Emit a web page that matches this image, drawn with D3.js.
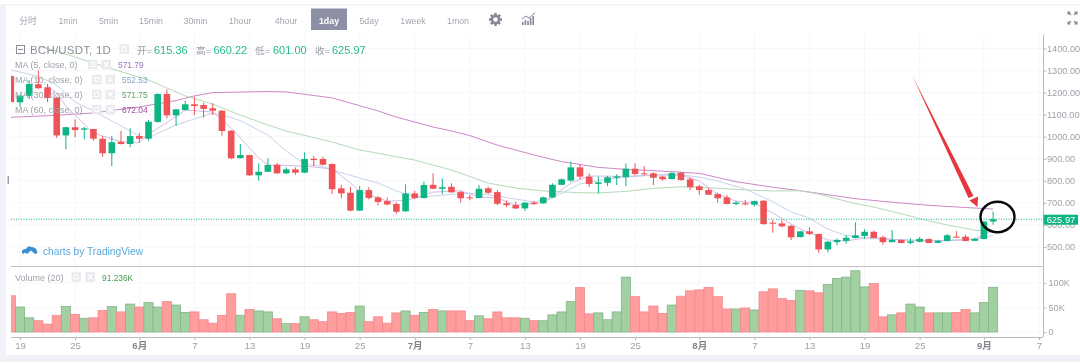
<!DOCTYPE html>
<html>
<head>
<meta charset="utf-8">
<script src="https://cdn.jsdelivr.net/npm/d3@7"></script>
<style>
html, body { margin: 0; padding: 0; background: #fff; }
svg { display: block; filter: blur(0.35px); }
text { font-family: "Liberation Sans", Arial, "Noto Sans CJK SC", sans-serif; }
</style>
</head>
<body>
<div id="chart"></div>
<script>
// daily candles, 18 May to 2 Sep
var firstDay = "2018-05-18";
var opens = [1275,1156,1185,1238,1224,1177,1006,1043,1032,1035,991,925,977,967,1003,991,1067,1194,1097,1121,1147,1144,1129,1118,1027,903,917,825,841,873,834,852,837,900,899,876,766,746,665,758,725,708,695,662,743,722,782,764,773,749,725,722,766,749,698,690,675,701,698,725,782,801,861,819,786,791,814,817,855,834,834,819,808,837,807,775,758,740,725,695,698,692,710,610,607,596,545,571,559,489,522,528,541,550,569,544,522,532,519,524,536,519,527,547,547,528,536,615.36];
var highs = [1280,1189,1257,1300,1239,1180,1045,1079,1045,1036,1003,1003,1027,1038,1018,1076,1196,1215,1127,1163,1181,1154,1152,1121,1030,967,919,879,902,881,861,861,929,913,909,879,781,773,776,771,731,725,701,784,755,796,834,811,789,755,736,781,773,758,710,705,705,710,728,789,811,887,876,834,819,822,830,879,879,867,839,823,839,839,816,781,766,746,736,708,713,710,712,622,622,600,572,589,561,527,539,554,612,580,574,551,577,535,539,545,539,533,559,572,557,542,618,660.22];
var lows = [1157,1136,1171,1216,1157,994,943,997,988,982,909,867,965,952,973,982,1064,1083,1049,1118,1098,1086,1098,1005,898,901,822,801,840,832,831,828,835,867,870,740,721,662,663,716,689,689,650,659,716,720,762,740,746,701,712,721,740,690,680,672,664,690,696,722,781,796,807,773,743,776,781,776,825,826,781,800,807,800,758,736,736,701,693,689,689,683,601,565,589,532,543,554,474,476,508,516,539,537,538,510,521,517,513,521,517,518,526,542,526,526,535,601];
var closes = [1157,1186,1239,1220,1176,1006,1043,1030,1038,991,925,975,967,1003,991,1068,1194,1097,1124,1147,1139,1126,1118,1026,902,917,825,841,872,834,852,837,899,894,873,762,743,665,758,722,704,693,660,743,722,781,764,771,748,721,721,764,746,696,690,675,701,695,725,782,807,861,819,786,793,816,820,855,831,830,814,807,835,804,771,758,737,721,695,701,693,708,604,606,594,544,571,559,489,524,532,542,553,569,541,522,532,518,526,537,518,528,553,544,527,537,615,625.97];
var volumes = [74,51,29,23,16,34,52,36,28,29,44,52,41,57,51,60,51,62,55,40,41,25,18,34,78,34,46,43,41,27,17,17,31,25,21,41,38,40,53,21,31,18,39,43,34,40,46,43,43,43,23,33,27,41,29,29,28,23,23,35,41,62,91,37,39,25,41,112,72,41,53,38,55,73,84,86,91,72,47,47,49,45,82,88,68,64,85,84,80,97,109,112,125,92,99,31,35,39,57,51,39,39,39,40,46,39,60,91.236];

// moving averages: day offset from firstDay, then price
var ma5Days = [4,5,6,9,12,14,15,17,19,22,24,25,27,28,32,35,37,38,41,43,44,46,49,51,53,55,57,58,59,61,63,67,70,73,75,77,79,81,83,85,86,89,91,93,94,97,100,105,106,107];
var ma5 = [1230,1198,1139,1017,977,973,1012,1064,1121,1112,1040,994,903,872,867,854,790,751,708,711,722,749,755,727,722,690,697,702,727,790,822,820,826,826,799,740,708,699,654,604,581,532,527,541,542,532,527,535,559,571.79];
var ma10Days = [0,3,5,7,9,12,14,15,18,22,24,25,28,30,32,34,35,38,40,42,44,46,49,51,54,57,59,62,65,68,72,75,77,80,83,85,87,89,91,94,98,102,105,107];
var ma10 = [1303,1273,1235,1157,1117,1049,1003,996,1053,1108,1087,1073,1008,935,876,865,849,813,790,754,727,731,743,743,724,704,722,786,808,820,831,817,799,763,705,659,631,581,552,537,532,528,535,552.53];
var ma30Days = [3,5,7,10,15,19,22,25,28,30,35,38,44,48,52,55,58,62,64,67,70,73,75,79,83,86,88,90,92,94,96,98,100,102,105,107];
var ma30 = [1411,1389,1361,1321,1257,1185,1148,1098,1053,1026,976,940,894,849,790,767,754,746,745,752,766,773,771,761,754,755,740,718,697,681,661,640,618,600,576,571.75];
var ma60Days = [0,5,9,14,18,20,22,28,30,35,40,42,46,48,50,53,57,60,64,67,70,73,75,79,83,86,88,92,96,100,104,107];
var ma60 = [1088,1097,1108,1135,1164,1185,1200,1205,1203,1176,1117,1089,1044,1026,1005,962,917,887,861,852,846,839,834,796,771,755,743,719,703,689,679,672.04];

// labels
var periods = ["分时","1min","5min","15min","30min","1hour","4hour","1day","5day","1week","1mon"];
var priceTicks = [500,600,700,800,900,1000,1100,1200,1300,1400];
var volumeTicks = [0,50,100];
var dateTicks = ["2018-05-19","2018-05-25","2018-06-01","2018-06-07","2018-06-13","2018-06-19","2018-06-25","2018-07-01","2018-07-07","2018-07-13","2018-07-19","2018-07-25","2018-08-01","2018-08-07","2018-08-13","2018-08-19","2018-08-25","2018-09-01","2018-09-07"];
var dateLabels = ["19","25","6月","7","13","19","25","7月","7","13","19","25","8月","7","13","19","25","9月","7"];
var ohlcLabels = ["开","高","低","收"];
var ohlcValues = ["615.36","660.22","601.00","625.97"];
var lastPrice = 625.97;

var upColor = "#0cb583", downColor = "#ee5358", axisText = "#9fa2aa";

var width = 1080, height = 364;
var plotLeft = 11, plotRight = 1043;

var svg = d3.select("#chart")
    .append("svg")
    .attr("width", width)
    .attr("height", height);

// page background and white panel
svg.append("rect").attr("width", width).attr("height", height).attr("fill", "#f0f2f8");
svg.append("rect").attr("width", width).attr("height", 4).attr("fill", "#fff");
svg.append("rect").attr("x", 6).attr("y", 5.5).attr("width", width - 6).attr("height", 349.5).attr("fill", "#fff");
svg.append("rect").attr("y", 362).attr("width", width).attr("height", 2).attr("fill", "#fff");

var parseDay = d3.utcParse("%Y-%m-%d");
var day0 = parseDay(firstDay);
var dayOf = function (i) { return d3.utcDay.offset(day0, i); };

// scales
var x = d3.scaleUtc()
    .domain([parseDay("2018-05-19"), parseDay("2018-09-07")])
    .range([20, 1039]);
var y = d3.scaleLinear()
    .domain([500, 1400])
    .range([247, 48.5]);
var yVol = d3.scaleLinear()
    .domain([0, 100])
    .range([332, 283]);

var tickDates = dateTicks.map(parseDay);

// faint grid
var grid = svg.append("g").attr("stroke", "#f6f7fa").attr("stroke-width", 1);
grid.selectAll("line.v").data(tickDates).enter().append("line")
    .attr("x1", function (d) { return x(d); }).attr("x2", function (d) { return x(d); })
    .attr("y1", 34).attr("y2", 337);
grid.selectAll("line.h").data(priceTicks).enter().append("line")
    .attr("x1", plotLeft).attr("x2", plotRight)
    .attr("y1", function (d) { return y(d); }).attr("y2", function (d) { return y(d); });
grid.selectAll("line.hv").data(volumeTicks).enter().append("line")
    .attr("x1", plotLeft).attr("x2", plotRight)
    .attr("y1", function (d) { return yVol(d); }).attr("y2", function (d) { return yVol(d); });

// clip everything to the plot width
svg.append("clipPath").attr("id", "plot")
    .append("rect").attr("x", plotLeft).attr("y", 0).attr("width", plotRight - plotLeft).attr("height", 337);
var inner = svg.append("g").attr("clip-path", "url(#plot)");

// moving average lines
var maLine = function (days, values, color) {
    var line = d3.line()
        .x(function (d, i) { return x(dayOf(days[i])); })
        .y(function (d) { return y(d); });
    inner.append("path")
        .attr("d", line(values))
        .attr("fill", "none")
        .attr("stroke", color)
        .attr("stroke-width", 1);
};
maLine(ma60Days, ma60, "#cc88ca");
maLine(ma30Days, ma30, "#b5dab8");
maLine(ma10Days, ma10, "#c5d4e8");
maLine(ma5Days, ma5, "#d0bce6");

// candles
var isUp = function (i) { return closes[i] >= opens[i]; };
var candleW = 6.6;
var candles = inner.selectAll("g.candle").data(opens).enter().append("g");
candles.append("line")
    .attr("x1", function (d, i) { return x(dayOf(i)); })
    .attr("x2", function (d, i) { return x(dayOf(i)); })
    .attr("y1", function (d, i) { return y(highs[i]); })
    .attr("y2", function (d, i) { return y(lows[i]); })
    .attr("stroke", function (d, i) { return isUp(i) ? upColor : downColor; })
    .attr("stroke-width", 1);
candles.append("rect")
    .attr("x", function (d, i) { return x(dayOf(i)) - candleW / 2; })
    .attr("width", candleW)
    .attr("y", function (d, i) { return y(Math.max(opens[i], closes[i])); })
    .attr("height", function (d, i) { return Math.max(1, Math.abs(y(opens[i]) - y(closes[i]))); })
    .attr("fill", function (d, i) { return isUp(i) ? upColor : downColor; });

// last price line
svg.append("line")
    .attr("x1", plotLeft).attr("x2", plotRight)
    .attr("y1", y(lastPrice)).attr("y2", y(lastPrice))
    .attr("stroke", "#10b48a")
    .attr("stroke-width", 1)
    .attr("stroke-dasharray", "1 1.5");

// volume bars
var barW = 9.18;
inner.selectAll("rect.vol").data(volumes).enter().append("rect")
    .attr("x", function (d, i) { return x(dayOf(i)) - barW / 2; })
    .attr("width", barW)
    .attr("y", function (d) { return yVol(d); })
    .attr("height", function (d) { return yVol(0) - yVol(d); })
    .attr("fill", function (d, i) { return isUp(i) ? "#a3d0a2" : "#ff9c9c"; })
    .attr("stroke", function (d, i) { return isUp(i) ? "#83b585" : "#f28a8e"; })
    .attr("stroke-width", 0.8);

// price axis
svg.append("g")
    .attr("transform", "translate(" + plotRight + ",0)")
    .call(d3.axisRight(y).tickValues(priceTicks).tickSize(3.5).tickPadding(.5).tickFormat(d3.format(".2f")))
    .call(function (g) { g.select(".domain").remove(); })
    .call(function (g) { g.selectAll("line").attr("stroke", "#b5b7bd"); })
    .call(function (g) { g.selectAll("text").attr("fill", axisText).attr("font-size", 9.2).attr("font-family", "Liberation Sans"); });

// volume axis
svg.append("g")
    .attr("transform", "translate(" + plotRight + ",0)")
    .call(d3.axisRight(yVol).tickValues(volumeTicks).tickSize(3.5).tickPadding(2).tickFormat(function (d) { return d ? d + "K" : "0"; }))
    .call(function (g) { g.select(".domain").remove(); })
    .call(function (g) { g.selectAll("line").attr("stroke", "#b5b7bd"); })
    .call(function (g) { g.selectAll("text").attr("fill", axisText).attr("font-size", 9.2).attr("font-family", "Liberation Sans"); });

// frame lines
var frame = svg.append("g").attr("stroke", "#b8bac0").attr("stroke-width", 1);
frame.append("line").attr("x1", plotRight + .5).attr("x2", plotRight + .5).attr("y1", 34.5).attr("y2", 337);
frame.append("line").attr("x1", plotLeft).attr("x2", plotRight).attr("y1", 266.5).attr("y2", 266.5).attr("stroke", "#c0c1c6");
frame.append("line").attr("x1", plotLeft).attr("x2", plotRight).attr("y1", 337.5).attr("y2", 337.5);

// date axis
svg.append("g")
    .attr("transform", "translate(0,337)")
    .call(d3.axisBottom(x).tickValues(tickDates).tickSize(3).tickPadding(2)
        .tickFormat(function (d, i) { return dateLabels[i]; }))
    .call(function (g) { g.select(".domain").remove(); })
    .call(function (g) { g.selectAll("line").attr("stroke", "#b5b7bd"); })
    .call(function (g) {
        g.selectAll("text")
            .attr("font-size", 9.6)
            .attr("font-family", '"Liberation Sans", "Noto Sans CJK SC"')
            .attr("font-weight", function (d, i) { return dateLabels[i].indexOf("月") > 0 ? "bold" : "normal"; })
            .attr("fill", function (d, i) { return dateLabels[i].indexOf("月") > 0 ? "#85878f" : axisText; });
    });

// price tag on the axis
svg.append("rect").attr("x", 1043.5).attr("y", y(lastPrice) - 4.5).attr("width", 34.5).attr("height", 10).attr("fill", upColor);
svg.append("text")
    .attr("x", 1061).attr("y", y(lastPrice) + 3.8)
    .attr("text-anchor", "middle")
    .attr("fill", "#fff")
    .attr("font-size", 9.4)
    .text(lastPrice.toFixed(2));

// toolbar
var periodX = [28, 68, 108.5, 151, 195.5, 240, 286, 329, 369, 413, 458];
svg.append("rect").attr("x", 311).attr("y", 8.5).attr("width", 36).attr("height", 21.5).attr("fill", "#8d90a5");
svg.selectAll("text.period").data(periods).enter().append("text")
    .attr("x", function (d, i) { return periodX[i]; })
    .attr("y", 23.5)
    .attr("text-anchor", "middle")
    .attr("font-size", 8.8)
    .attr("font-weight", function (d) { return d == "1day" ? "bold" : "normal"; })
    .attr("fill", function (d) { return d == "1day" ? "#fff" : "#a3a6b0"; })
    .text(function (d) { return d; });

// gear icon
var gear = svg.append("g").attr("transform", "translate(495.5,19.5)").attr("fill", "#85889a");
d3.range(4).forEach(function (i) {
    gear.append("rect").attr("x", -1.3).attr("y", -6.5).attr("width", 2.6).attr("height", 13)
        .attr("transform", "rotate(" + i * 45 + ")");
});
gear.append("circle").attr("r", 4.8);
gear.append("circle").attr("r", 2.3).attr("fill", "#fff");

// indicators icon
var bars = svg.append("g").attr("transform", "translate(522,25)").attr("fill", "#85889a");
[3, 5, 4, 7, 9].forEach(function (h, i) {
    bars.append("rect").attr("x", i * 2.6).attr("y", -h).attr("width", 1.6).attr("height", h);
});
bars.append("path").attr("d", "M0,-6L4,-9L7,-7L13,-12").attr("fill", "none").attr("stroke", "#85889a");

// fullscreen arrows, top right
var arrows = svg.append("g").attr("stroke", "#7e8087").attr("stroke-width", 1.1).attr("fill", "none");
[[1068, 12, 1, 1], [1077, 12, -1, 1], [1068, 24, 1, -1], [1077, 24, -1, -1]].forEach(function (a) {
    arrows.append("path").attr("d", "M" + a[0] + "," + a[1] + "l" + 3 * a[2] + "," + 3 * a[3] + "M" + a[0] + "," + (a[1] + 2.5 * a[3]) + "V" + a[1] + "H" + (a[0] + 2.5 * a[2]));
});

// small show/close buttons in the legends
var showButton = function (bx, yc) {
    svg.append("rect").attr("x", bx).attr("y", yc - 4.75).attr("width", 9.5).attr("height", 9.5).attr("fill", "#e9eaee");
    svg.append("rect").attr("x", bx + 2.75).attr("y", yc - 2).attr("width", 4).attr("height", 4).attr("fill", "none").attr("stroke", "#fff");
};
var closeButton = function (bx, yc) {
    svg.append("rect").attr("x", bx).attr("y", yc - 4.75).attr("width", 9.5).attr("height", 9.5).attr("fill", "#e9eaee");
    svg.append("path").attr("d", "M" + (bx + 2.25) + "," + (yc - 2.5) + "l5,5m0,-5l-5,5").attr("stroke", "#fff").attr("stroke-width", 1.2);
};

// title legend
var legend = svg.append("g");
legend.append("rect").attr("x", 16.5).attr("y", 45.5).attr("width", 8).attr("height", 8).attr("fill", "none").attr("stroke", "#8a8c96");
legend.append("line").attr("x1", 18).attr("x2", 23).attr("y1", 49.5).attr("y2", 49.5).attr("stroke", "#8a8c96");
legend.append("text").attr("x", 30).attr("y", 53.5)
    .attr("font-size", 11.5).attr("fill", "#8d8f99").attr("letter-spacing", .2).text("BCH/USDT, 1D");
showButton(119.5, 49);

var ohlcX = [137, 196, 255, 315];
var ohlcValueX = [154, 213.5, 273, 332];
legend.selectAll("text.ohlcl").data(ohlcLabels).enter().append("text")
    .attr("x", function (d, i) { return ohlcX[i]; })
    .attr("y", 53.5).attr("font-size", 9.6).attr("fill", "#9b9da6")
    .text(function (d) { return d + "="; });
legend.selectAll("text.ohlcv").data(ohlcValues).enter().append("text")
    .attr("x", function (d, i) { return ohlcValueX[i]; })
    .attr("y", 53.5).attr("font-size", 11).attr("fill", "#28b98f")
    .text(function (d) { return d; });

// moving average legend
var maNames = ["MA (5, close, 0)", "MA (10, close, 0)", "MA (30, close, 0)", "MA (60, close, 0)"];
var maValues = ["571.79", "552.53", "571.75", "672.04"];
var maColors = ["#9a76bd", "#8aa3cb", "#5fa565", "#a2479e"];
var maRows = [64.5, 79.5, 94.5, 109.5];
maNames.forEach(function (name, i) {
    var shift = i == 0 ? 0 : 4;
    legend.append("text").attr("x", 15).attr("y", maRows[i] + 3)
        .attr("font-size", 9).attr("fill", "#9fa1aa").text(name);
    showButton(88 + shift, maRows[i]);
    closeButton(101.5 + shift, maRows[i]);
    legend.append("text").attr("x", 118 + shift).attr("y", maRows[i] + 3)
        .attr("font-size", 8.4).attr("fill", maColors[i]).text(maValues[i]);
});

// volume legend
legend.append("text").attr("x", 15).attr("y", 280.5)
    .attr("font-size", 9).attr("fill", "#a0a2ab").text("Volume (20)");
showButton(71.5, 277);
closeButton(85.5, 277);
legend.append("text").attr("x", 102).attr("y", 280.5)
    .attr("font-size", 8.4).attr("fill", "#4c9a55").text("91.236K");

// tradingview mark
svg.append("path")
    .attr("d", "M22,253 Q21,249 26,249 Q28,245 31,247 Q36,247 37,251 Q38,254 35,254 L31,250.5 L27,254 L25,252.5 L23.5,254 Z")
    .attr("fill", "#3a90d0");
svg.append("text").attr("x", 43).attr("y", 255)
    .attr("font-size", 10.2).attr("fill", "#5ca9dc").text("charts by TradingView");

// scroll handle on the left edge
svg.append("rect").attr("x", 7.5).attr("y", 176).attr("width", 1.5).attr("height", 8).attr("fill", "#9c9ea6");

// red arrow, drawn by hand on the screenshot
svg.append("path")
    .attr("d", "M912,75 L973.5,196 L968.5,198 Z")
    .attr("fill", "#e8363e");
svg.append("path")
    .attr("d", "M977.5,207 L969.5,200.5 L978,196.5 Z")
    .attr("fill", "#e8363e");

// black ring
svg.append("ellipse")
    .attr("cx", 997.5).attr("cy", 217).attr("rx", 17).attr("ry", 15.2)
    .attr("fill", "none").attr("stroke", "#0a0a0a").attr("stroke-width", 2.4);
</script>
</body>
</html>
